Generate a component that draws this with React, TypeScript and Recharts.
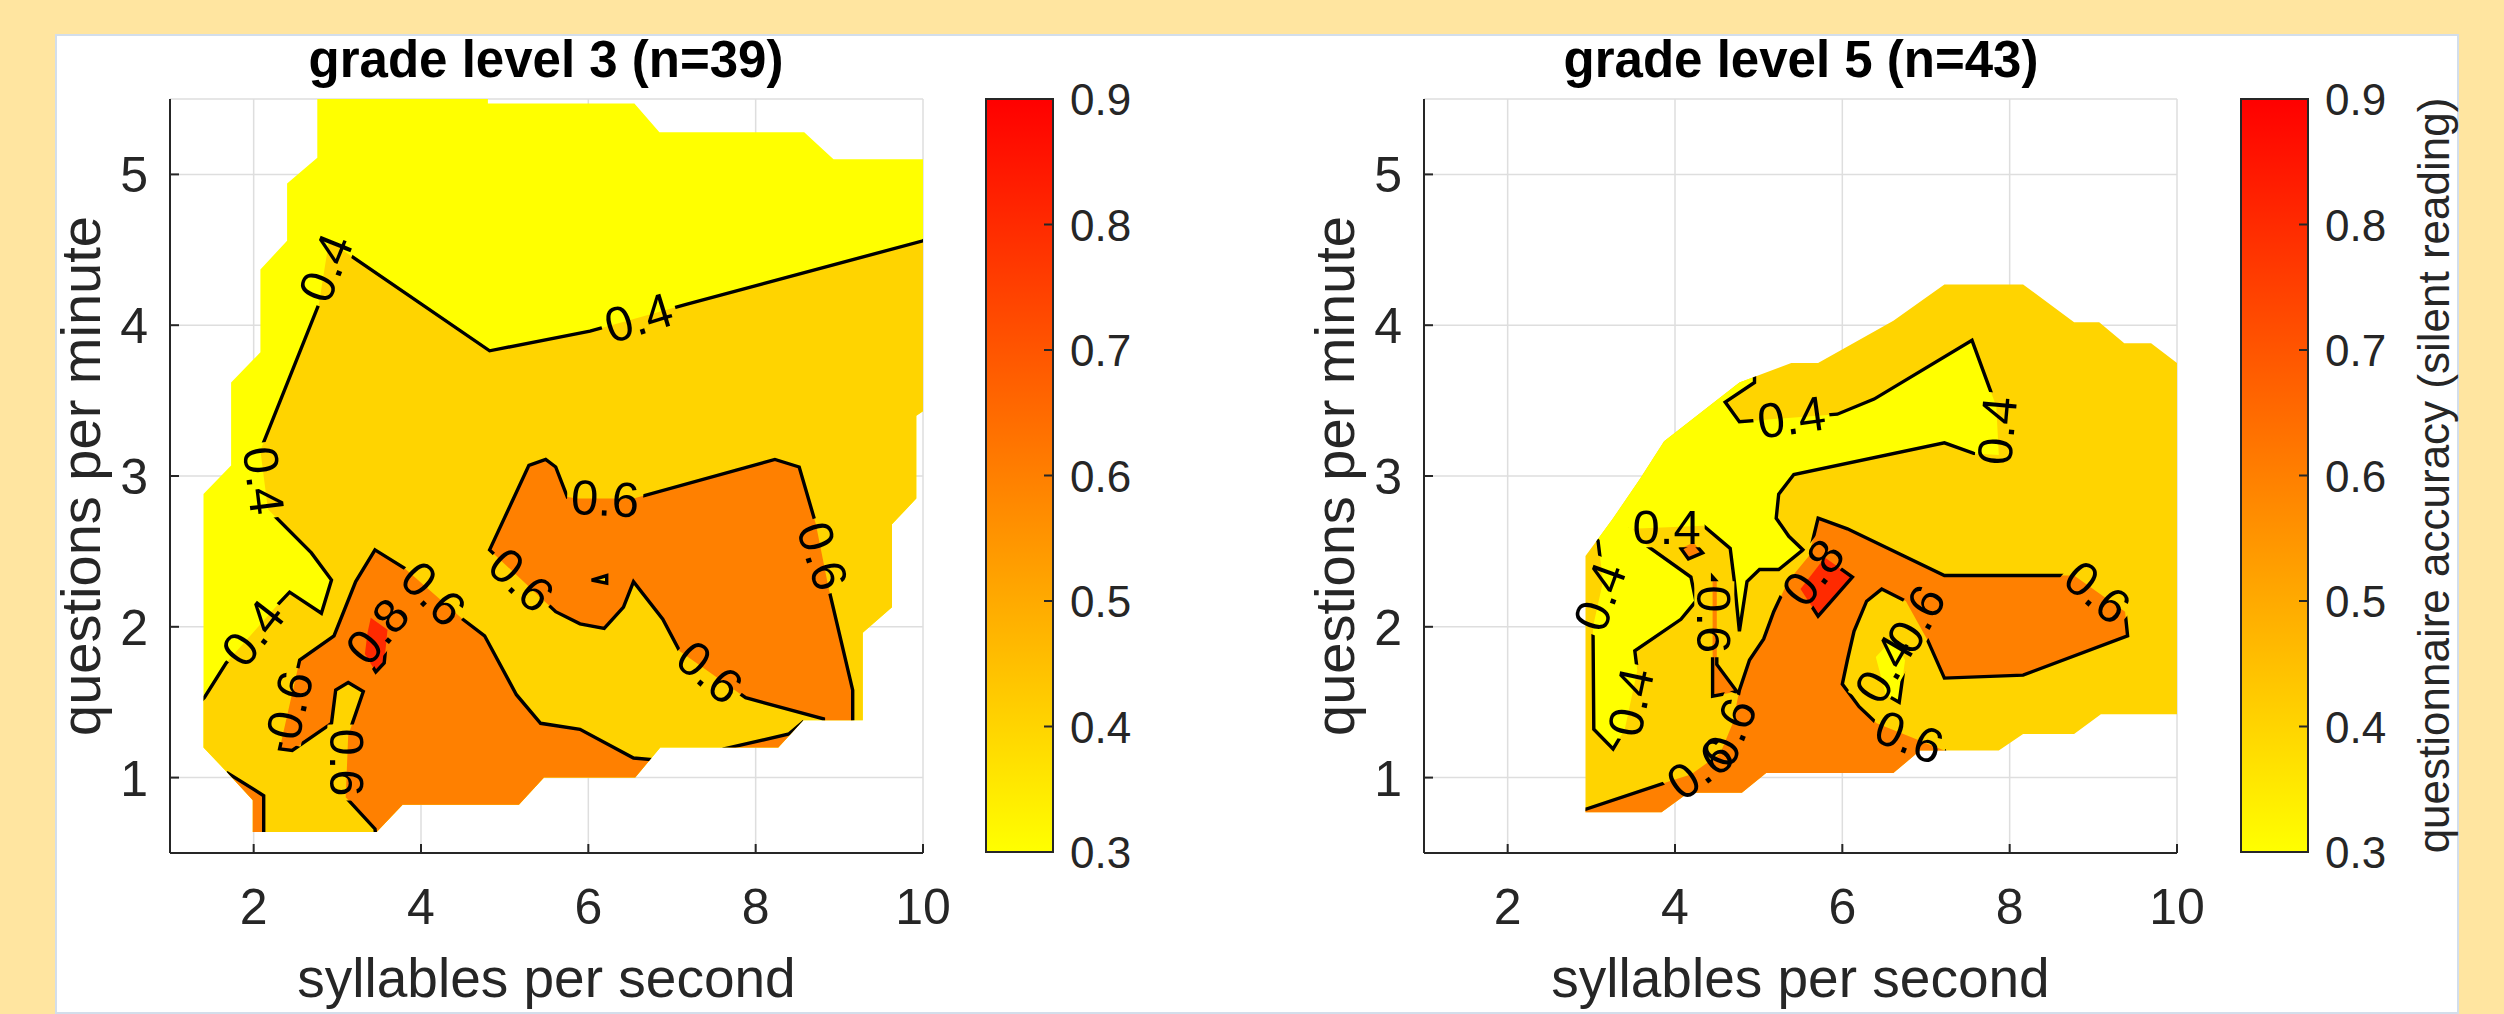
import React from "react";
import { ScatterChart, Scatter, XAxis, YAxis, CartesianGrid, ComposedChart, ReferenceArea } from "recharts";

type Pt = [number, number];
type Lab = { x: number; y: number; v: string; a: number };

const FONT = '"Liberation Sans", Arial, Helvetica, sans-serif';
const INK = "#262626";
const YELLOW = "#FFFF00";
const GOLD = "#FFD400";
const ORANGE = "#FF8000";
const RED = "#FF2A00";

const titles = ["grade level 3 (n=39)", "grade level 5 (n=43)"];
const xLabel = "syllables per second";
const yLabel = "questions per minute";
const cbLabel = "questionnaire accuracy (silent reading)";
const xTicks = [2, 4, 6, 8, 10];
const yTicks = [1, 2, 3, 4, 5];
const cbTicks = [0.3, 0.4, 0.5, 0.6, 0.7, 0.8, 0.9];

// grade level 3: area covered by the data, then the level regions
const grade3Domain: Pt[] = [
  [2.76, 5.5], [4.8, 5.5], [4.8, 5.47], [6.55, 5.47], [6.85, 5.28], [8.58, 5.28], [8.93, 5.1], [10, 5.1],
  [10, 3.43], [9.92, 3.4], [9.92, 2.85], [9.63, 2.68], [9.63, 2.13], [9.28, 1.96], [9.28, 1.38], [8.57, 1.38],
  [8.27, 1.2], [6.86, 1.2], [6.56, 1.0], [5.47, 1.0], [5.17, 0.82], [3.78, 0.82], [3.47, 0.64], [1.99, 0.64],
  [1.99, 0.85], [1.69, 1.03], [1.4, 1.2], [1.4, 2.88], [1.73, 3.07], [1.73, 3.62], [2.08, 3.82], [2.08, 4.37],
  [2.4, 4.56], [2.4, 4.94], [2.76, 5.11],
];
const grade3Above04: Pt[][] = [
  [[10.6, 4.75], [10.0, 4.56], [7.18, 4.14], [6.02, 3.96], [4.82, 3.83], [2.9, 4.56], [2.78, 4.14], [2.08, 3.17],
   [2.17, 2.78], [2.69, 2.49], [2.93, 2.31], [2.81, 2.09], [2.43, 2.23], [2.26, 2.13], [1.67, 1.76], [1.41, 1.53],
   [1.2, 1.42], [1.2, 0.3], [10.6, 0.3]],
];
const grade3Above06: Pt[][] = [
  [[3.45, 2.51], [3.8, 2.39], [4.5, 2.05], [4.76, 1.94], [5.14, 1.55], [5.43, 1.36], [5.9, 1.32], [6.54, 1.13],
   [6.75, 1.12], [6.75, 0.4], [3.5, 0.4], [3.45, 0.66], [3.1, 0.87], [3.13, 1.28], [3.31, 1.57], [3.13, 1.63],
   [2.98, 1.58], [2.93, 1.36], [2.46, 1.18], [2.31, 1.19], [2.55, 1.78], [2.96, 1.94], [3.22, 2.3]],
  [[1.6, 0.98], [1.69, 1.03], [2.12, 0.88], [2.12, 0.4], [1.6, 0.4]],
  [[4.82, 2.51], [5.29, 3.07], [5.49, 3.11], [5.61, 3.06], [5.75, 2.86], [5.87, 2.85], [6.54, 2.85], [8.23, 3.11],
   [8.52, 3.06], [8.72, 2.68], [8.87, 2.26], [9.16, 1.58], [9.16, 1.39], [9.16, 1.2], [8.81, 1.2], [8.81, 1.39],
   [7.88, 1.53], [7.09, 1.84], [6.89, 2.05], [6.54, 2.3], [6.42, 2.13], [6.19, 1.99], [5.9, 2.02], [5.61, 2.1]],
  [[7.62, 1.19], [8.4, 1.29], [8.55, 1.36], [8.6, 1.0], [7.55, 1.0]],
];
const grade3Above08: Pt[][] = [
  [[3.4, 2.06], [3.6, 1.98], [3.56, 1.76], [3.46, 1.7], [3.33, 1.82], [3.36, 1.96]],
];
const grade3Dips: Pt[][] = [
  [[6.04, 2.31], [6.22, 2.34], [6.22, 2.29]],
];
const grade3Labels: Lab[] = [
  { x: 6.6, y: 4.05, v: "0.4", a: -17 },
  { x: 2.86, y: 4.38, v: "0.4", a: -68 },
  { x: 2.12, y: 2.97, v: "0.4", a: 83 },
  { x: 1.99, y: 1.96, v: "0.4", a: -52 },
  { x: 4.15, y: 2.22, v: "0.6", a: 45 },
  { x: 3.48, y: 1.97, v: "0.8", a: -50 },
  { x: 2.43, y: 1.48, v: "0.6", a: -77 },
  { x: 3.12, y: 1.1, v: "0.6", a: 90 },
  { x: 6.2, y: 2.85, v: "0.6", a: 3 },
  { x: 8.8, y: 2.47, v: "0.6", a: 72 },
  { x: 5.2, y: 2.31, v: "0.6", a: 43 },
  { x: 7.45, y: 1.7, v: "0.6", a: 40 },
];

// grade level 5
const grade5Domain: Pt[] = [
  [2.93, 0.77], [2.93, 2.47], [3.26, 2.72], [3.58, 2.98], [3.87, 3.23], [4.77, 3.62], [5.39, 3.75], [5.71, 3.75],
  [6.61, 4.03], [7.22, 4.27], [8.16, 4.27], [8.77, 4.02], [9.07, 4.02], [9.37, 3.88], [9.69, 3.88], [10, 3.75],
  [10, 1.42], [9.09, 1.42], [8.77, 1.29], [8.16, 1.29], [7.87, 1.18], [6.93, 1.18], [6.61, 1.03], [5.09, 1.03],
  [4.8, 0.9], [4.16, 0.9], [3.84, 0.77],
];
const grade5Below04: Pt[][] = [
  [[3.08, 2.57], [2.67, 2.78], [4.42, 3.91], [4.95, 3.72], [4.95, 3.62], [4.6, 3.49], [4.77, 3.36], [5.94, 3.41],
   [6.38, 3.51], [7.55, 3.9], [7.84, 3.46], [7.87, 3.14], [7.57, 3.15], [7.22, 3.22], [5.42, 3.01], [5.24, 2.88],
   [5.21, 2.72], [5.36, 2.6], [5.53, 2.51], [5.24, 2.38], [5.01, 2.38], [4.86, 2.3], [4.77, 1.97], [4.71, 2.3],
   [4.66, 2.52], [4.34, 2.67], [3.49, 2.65], [3.66, 2.54], [4.19, 2.33], [4.25, 2.17], [4.07, 2.05], [3.52, 1.84],
   [3.55, 1.71], [3.4, 1.32], [3.26, 1.19], [3.03, 1.32], [3.02, 2.0], [3.14, 2.3]],
  [[6.4, 1.8], [6.6, 1.92], [6.75, 1.78], [6.68, 1.5], [6.52, 1.55]],
];
const grade5Above06: Pt[][] = [
  [[5.71, 2.72], [6.06, 2.65], [7.22, 2.34], [8.77, 2.34], [9.38, 2.1], [9.41, 1.94], [8.16, 1.68], [7.22, 1.66],
   [7.02, 1.91], [6.76, 2.17], [6.47, 2.25], [6.29, 2.17], [6.14, 1.97], [6.06, 1.78], [6.0, 1.62], [6.2, 1.47],
   [6.41, 1.36], [7.22, 1.18], [7.3, 1.0], [7.3, 0.4], [2.7, 0.4], [2.7, 0.8], [2.93, 0.79], [3.96, 0.98],
   [4.19, 1.02], [4.54, 1.16], [4.69, 1.36], [4.77, 1.58], [4.89, 1.78], [5.06, 1.92], [5.18, 2.1], [5.35, 2.3],
   [5.6, 2.47]],
  [[4.07, 2.52], [4.22, 2.56], [4.33, 2.49], [4.16, 2.45]],
  [[4.45, 2.33], [4.5, 2.3], [4.5, 1.75], [4.74, 1.57], [4.45, 1.54]],
];
const grade5Above08: Pt[][] = [
  [[5.79, 2.46], [6.12, 2.33], [5.71, 2.07], [5.5, 2.25]],
];
const grade5Labels: Lab[] = [
  { x: 5.39, y: 3.39, v: "0.4", a: -8 },
  { x: 7.85, y: 3.3, v: "0.4", a: -85 },
  { x: 3.9, y: 2.66, v: "0.4", a: 0 },
  { x: 3.1, y: 2.2, v: "0.4", a: -70 },
  { x: 3.47, y: 1.5, v: "0.4", a: -78 },
  { x: 6.5, y: 1.72, v: "0.4", a: -60 },
  { x: 4.47, y: 2.05, v: "0.6", a: 90 },
  { x: 9.05, y: 2.23, v: "0.6", a: 40 },
  { x: 6.88, y: 2.05, v: "0.6", a: -60 },
  { x: 4.65, y: 1.3, v: "0.6", a: -67 },
  { x: 4.3, y: 1.06, v: "0.6", a: -36 },
  { x: 5.65, y: 2.36, v: "0.8", a: -53 },
  { x: 6.8, y: 1.27, v: "0.6", a: 22 },
];

const asRows = (poly: Pt[]) => poly.map(([x, y]) => ({ x, y }));
const pathOf = (pts: { x: number; y: number }[]) =>
  pts.map((p, i) => `${i ? "L" : "M"}${p.x.toFixed(1)},${p.y.toFixed(1)}`).join("") + "Z";
const noDot = () => <g />;

const XTick = (p: any) => (
  <g>
    <line x1={p.x} x2={p.x} y1={p.y} y2={p.y - 9} stroke={INK} strokeWidth={2} />
    <text x={p.x} y={p.y + 71} textAnchor="middle" fontSize={50} fill={INK} fontFamily={FONT}>{p.payload.value}</text>
  </g>
);
const YTick = (p: any) => (
  <g>
    <line x1={p.x} x2={p.x + 9} y1={p.y} y2={p.y} stroke={INK} strokeWidth={2} />
    <text x={p.x - 22} y={p.y + 18} textAnchor="end" fontSize={50} fill={INK} fontFamily={FONT}>{p.payload.value}</text>
  </g>
);
const CbTick = (p: any) => (
  <g>
    <line x1={p.x - 9} x2={p.x} y1={p.y} y2={p.y} stroke={INK} strokeWidth={2} />
    <text x={p.x + 17} y={p.y + 16} fontSize={44} fill={INK} fontFamily={FONT}>{p.payload.value.toFixed(1)}</text>
  </g>
);

type Layer = { fill: string; polys: Pt[][] };

function Panel({ id, left, domain, base, layers, labels }: { id: string; left: number; domain: Pt[]; base: string; layers: Layer[]; labels: Lab[] }) {
  const clip = `url(#dom-${id})`;
  const domainLine = (p: any) => {
    const d = pathOf(p.points);
    return (
      <g>
        <defs>
          <clipPath id={`dom-${id}`}><path d={d} /></clipPath>
        </defs>
        <path d={d} fill={base} stroke="none" />
      </g>
    );
  };
  const fillLine = (fill: string) => (p: any) => <path d={pathOf(p.points)} fill={fill} stroke="none" clipPath={clip} />;
  const edgeLine = (p: any) => (
    <path d={pathOf(p.points)} fill="none" stroke="#000" strokeWidth={3.4} clipPath={clip} mask={`url(#gap-${id})`} />
  );
  const gapLine = (p: any) => (
    <mask id={`gap-${id}`} maskUnits="userSpaceOnUse" x={-50} y={-50} width={1200} height={1200}>
      <rect x={-50} y={-50} width={1200} height={1200} fill="#fff" />
      {p.points.map((q: any, i: number) => (
        <rect key={i} x={q.x - 38} y={q.y - 20} width={76} height={40} fill="#000"
          transform={`rotate(${labels[i].a} ${q.x} ${q.y})`} />
      ))}
    </mask>
  );
  const labelShape = (p: any) => {
    const d = p.payload ?? p;
    return (
      <text x={p.cx} y={p.cy} transform={`rotate(${d.a} ${p.cx} ${p.cy})`} textAnchor="middle"
        dominantBaseline="central" fontSize={49} fill="#000" fontFamily={FONT}>{d.v}</text>
    );
  };
  return (
    <div style={{ position: "absolute", left, top: 0 }}>
      <ScatterChart width={1000} height={1014} margin={{ top: 99, right: 77, bottom: 61, left: 70 }}>
        <CartesianGrid stroke="#DEDEDE" strokeWidth={1.5} />
        <Scatter data={asRows(domain)} shape={noDot} line={domainLine} isAnimationActive={false} />
        {layers.flatMap((L, li) =>
          L.polys.map((poly, pi) => (
            <Scatter key={`f${li}-${pi}`} data={asRows(poly)} shape={noDot} line={fillLine(L.fill)} isAnimationActive={false} />
          ))
        )}
        {layers.flatMap((L, li) =>
          L.polys.map((poly, pi) => (
            <Scatter key={`e${li}-${pi}`} data={asRows(poly)} shape={noDot} line={edgeLine} isAnimationActive={false} />
          ))
        )}
        <Scatter data={labels} shape={labelShape} line={gapLine} isAnimationActive={false} />
        <XAxis type="number" dataKey="x" domain={[1, 10]} ticks={xTicks} interval={0} allowDataOverflow height={100}
          tickSize={0} tickMargin={0} tickLine={false} axisLine={{ stroke: INK, strokeWidth: 2 }} tick={XTick}
          label={(p: any) => (
            <text x={p.viewBox.x + p.viewBox.width / 2} y={p.viewBox.y + 144} textAnchor="middle" fontSize={55}
              fill={INK} fontFamily={FONT}>{xLabel}</text>
          )} />
        <YAxis type="number" dataKey="y" domain={[0.5, 5.5]} ticks={yTicks} interval={0} allowDataOverflow width={100}
          tickSize={0} tickMargin={0} tickLine={false} axisLine={{ stroke: INK, strokeWidth: 2 }} tick={YTick}
          label={(p: any) => {
            const cx = p.viewBox.x + 30;
            const cy = p.viewBox.y + p.viewBox.height / 2;
            return (
              <text x={cx} y={cy} transform={`rotate(-90 ${cx} ${cy})`} textAnchor="middle" fontSize={56}
                fill={INK} fontFamily={FONT}>{yLabel}</text>
            );
          }} />
      </ScatterChart>
    </div>
  );
}

function ColorBar({ left, width, gid, label }: { left: number; width: number; gid: string; label?: string }) {
  const shape = (p: any) => (
    <g>
      <defs>
        <linearGradient id={gid} x1="0" y1="1" x2="0" y2="0">
          <stop offset="0" stopColor={YELLOW} />
          <stop offset="1" stopColor="#FF0000" />
        </linearGradient>
      </defs>
      <rect x={p.x} y={p.y} width={p.width} height={p.height} fill={`url(#${gid})`} stroke={INK} strokeWidth={2} />
    </g>
  );
  return (
    <div style={{ position: "absolute", left, top: 0 }}>
      <ComposedChart width={width} height={1014} margin={{ top: 99, right: width - 253, bottom: 162, left: 86 }}
        data={[{ x: 0 }, { x: 1 }]}>
        <XAxis type="number" dataKey="x" domain={[0, 1]} hide />
        <YAxis orientation="right" type="number" domain={[0.3, 0.9]} ticks={cbTicks} interval={0} width={100}
          allowDataOverflow tickSize={0} tickMargin={0} tickLine={false} axisLine={false} tick={CbTick}
          label={label ? (p: any) => {
            const cx = p.viewBox.x + 141;
            const cy = p.viewBox.y + p.viewBox.height / 2;
            return (
              <text x={cx} y={cy} transform={`rotate(-90 ${cx} ${cy})`} textAnchor="middle" fontSize={44}
                fill={INK} fontFamily={FONT}>{label}</text>
            );
          } : undefined} />
        <ReferenceArea y1={0.3} y2={0.9} shape={shape} ifOverflow="visible" />
      </ComposedChart>
    </div>
  );
}

export default function App() {
  return (
    <div style={{ position: "absolute", left: 0, top: 0, width: 2504, height: 1014, background: "#FFE5A0", overflow: "hidden" }}>
      <div style={{ position: "absolute", left: 55, top: 34, width: 2404, height: 980, background: "#fff",
        border: "2px solid #D3DEEB", boxSizing: "border-box" }} />
      <Panel id="g3" left={0} domain={grade3Domain} base={YELLOW} labels={grade3Labels}
        layers={[
          { fill: GOLD, polys: grade3Above04 },
          { fill: ORANGE, polys: grade3Above06 },
          { fill: RED, polys: grade3Above08 },
          { fill: GOLD, polys: grade3Dips },
        ]} />
      <ColorBar left={900} width={300} gid="cb3" />
      <Panel id="g5" left={1254} domain={grade5Domain} base={GOLD} labels={grade5Labels}
        layers={[
          { fill: YELLOW, polys: grade5Below04 },
          { fill: ORANGE, polys: grade5Above06 },
          { fill: RED, polys: grade5Above08 },
        ]} />
      <ColorBar left={2155} width={349} gid="cb5" label={cbLabel} />
      <svg width={2504} height={1014} style={{ position: "absolute", left: 0, top: 0, pointerEvents: "none" }}>
        <text x={546} y={77} textAnchor="middle" fontSize={51} fontWeight="bold" fill="#000" fontFamily={FONT}>{titles[0]}</text>
        <text x={1801} y={77} textAnchor="middle" fontSize={51} fontWeight="bold" fill="#000" fontFamily={FONT}>{titles[1]}</text>
      </svg>
    </div>
  );
}
